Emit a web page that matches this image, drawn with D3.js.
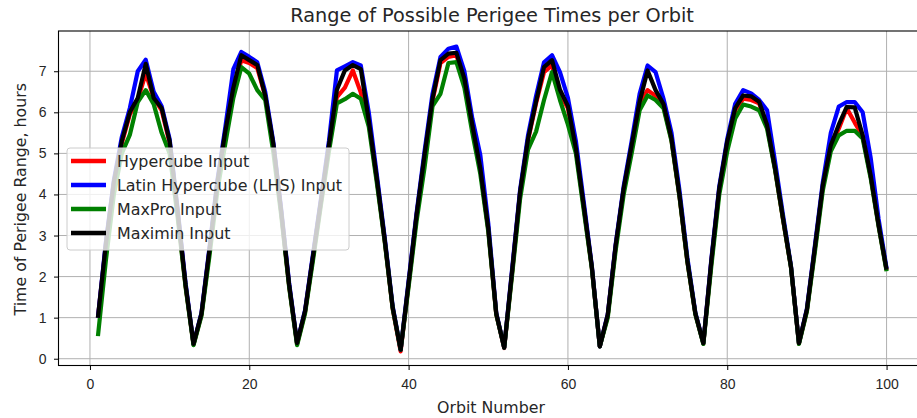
<!DOCTYPE html>
<html>
<head>
<meta charset="utf-8">
<script src="https://cdn.jsdelivr.net/npm/d3@7"></script>
<style>
  body { margin: 0; background: #fff; }
  svg { display: block; font-family: "DejaVu Sans", sans-serif; }
  .grid line { stroke: #b0b0b0; stroke-width: 1; }
  .axis text { font-size: 14px; fill: #262626; }
  .axis line, .axis path { stroke: #000; }
</style>
</head>
<body>
<svg id="chart" width="917" height="418"></svg>
<script>
// orbit numbers 1..100
let orbits = d3.range(1, 101);

let hypercube = [1.00, 2.75, 4.25, 5.25, 5.95, 6.30, 6.95, 6.35, 6.05, 5.25,
    3.55, 1.78, 0.35, 1.08, 2.62, 4.25, 5.50, 6.55, 7.27, 7.20,
    7.08, 6.40, 5.22, 3.58, 1.78, 0.36, 1.14, 2.48, 3.82, 5.15,
    6.37, 6.60, 7.02, 6.48, 5.75, 4.38, 2.88, 1.22, 0.18, 1.82,
    3.48, 4.92, 6.28, 7.20, 7.35, 7.39, 6.78, 5.66, 4.62, 3.16,
    1.09, 0.26, 2.12, 4.05, 5.33, 6.22, 6.98, 7.15, 6.45, 6.10,
    5.10, 3.68, 2.22, 0.30, 1.05, 2.75, 4.12, 5.17, 6.20, 6.54,
    6.40, 6.15, 5.33, 3.97, 2.36, 1.09, 0.37, 2.35, 4.12, 5.25,
    6.05, 6.33, 6.30, 6.22, 5.67, 4.62, 3.40, 2.23, 0.37, 1.18,
    2.68, 4.20, 5.18, 5.60, 6.10, 5.75, 5.42, 4.45, 3.25, 2.16];

let lhs = [1.00, 2.85, 4.35, 5.40, 6.10, 7.00, 7.28, 6.50, 6.15, 5.35,
    3.65, 1.85, 0.36, 1.12, 2.70, 4.35, 5.65, 7.05, 7.47, 7.35,
    7.22, 6.50, 5.30, 3.65, 1.85, 0.38, 1.18, 2.55, 3.90, 5.30,
    7.02, 7.12, 7.22, 7.14, 6.00, 4.50, 2.95, 1.28, 0.22, 1.90,
    3.55, 5.05, 6.45, 7.35, 7.55, 7.60, 7.00, 5.85, 4.96, 3.30,
    1.12, 0.27, 2.20, 4.12, 5.45, 6.40, 7.22, 7.39, 6.98, 6.35,
    5.30, 3.80, 2.26, 0.30, 1.08, 2.80, 4.20, 5.30, 6.45, 7.14,
    6.98, 6.33, 5.50, 4.10, 2.45, 1.12, 0.38, 2.42, 4.20, 5.35,
    6.21, 6.54, 6.46, 6.30, 6.05, 4.80, 3.50, 2.26, 0.38, 1.22,
    2.75, 4.30, 5.50, 6.14, 6.25, 6.25, 6.00, 4.90, 3.40, 2.20];

let maxpro = [0.55, 2.40, 4.00, 5.00, 5.45, 6.25, 6.54, 6.20, 5.50, 5.00,
    3.45, 1.75, 0.33, 1.05, 2.50, 4.10, 5.25, 6.35, 7.10, 6.94,
    6.54, 6.30, 5.05, 3.50, 1.75, 0.33, 1.10, 2.40, 3.75, 5.05,
    6.22, 6.32, 6.45, 6.33, 5.65, 4.30, 2.85, 1.22, 0.22, 1.75,
    3.35, 4.65, 6.15, 6.45, 7.20, 7.22, 6.60, 5.50, 4.50, 3.10,
    1.08, 0.27, 2.05, 3.90, 5.10, 5.53, 6.30, 6.98, 6.30, 5.70,
    5.00, 3.60, 2.20, 0.30, 1.00, 2.65, 4.00, 5.00, 6.05, 6.41,
    6.30, 6.10, 5.30, 3.95, 2.35, 1.08, 0.36, 2.25, 4.00, 5.05,
    5.85, 6.19, 6.14, 6.05, 5.60, 4.60, 3.40, 2.22, 0.36, 1.15,
    2.60, 4.10, 5.05, 5.44, 5.55, 5.55, 5.36, 4.40, 3.22, 2.13];

let maximin = [1.00, 2.80, 4.30, 5.30, 6.00, 6.35, 7.18, 6.35, 6.10, 5.30,
    3.60, 1.80, 0.36, 1.10, 2.65, 4.30, 5.55, 6.60, 7.39, 7.27,
    7.15, 6.41, 5.25, 3.60, 1.80, 0.38, 1.16, 2.50, 3.85, 5.20,
    6.55, 7.02, 7.15, 7.05, 5.80, 4.40, 2.90, 1.25, 0.22, 1.85,
    3.50, 4.96, 6.33, 7.27, 7.43, 7.45, 6.82, 5.69, 4.64, 3.18,
    1.10, 0.27, 2.15, 4.07, 5.36, 6.26, 7.10, 7.27, 6.55, 6.15,
    5.12, 3.70, 2.24, 0.30, 1.07, 2.77, 4.15, 5.20, 6.26, 7.02,
    6.54, 6.20, 5.36, 3.99, 2.38, 1.10, 0.38, 2.38, 4.15, 5.29,
    6.10, 6.41, 6.39, 6.26, 5.69, 4.64, 3.42, 2.24, 0.38, 1.20,
    2.70, 4.23, 5.20, 5.70, 6.13, 6.12, 5.44, 4.47, 3.26, 2.17];

let seriesNames = ["Hypercube Input", "Latin Hypercube (LHS) Input", "MaxPro Input", "Maximin Input"];
let seriesColors = ["#ff0000", "#0000ff", "#008000", "#000000"];
let seriesValues = [hypercube, lhs, maxpro, maximin];

let xTicks = [0, 20, 40, 60, 80, 100];
let yTicks = [0, 1, 2, 3, 4, 5, 6, 7];

let svg = d3.select("#chart");
let plot = {left: 58.5, right: 926, top: 31, bottom: 365.5};

let x = d3.scaleLinear().domain([-3.95, 104.95]).range([plot.left, plot.right]);
let y = d3.scaleLinear().domain([-0.165, 7.98]).range([plot.bottom, plot.top]);

// grid
let grid = svg.append("g").attr("class", "grid");
grid.selectAll(".gx").data(xTicks).enter().append("line")
    .attr("x1", d => x(d)).attr("x2", d => x(d))
    .attr("y1", plot.top).attr("y2", plot.bottom);
grid.selectAll(".gy").data(yTicks).enter().append("line")
    .attr("x1", plot.left).attr("x2", plot.right)
    .attr("y1", d => y(d)).attr("y2", d => y(d));

// lines
let line = d3.line()
    .x((d, i) => x(orbits[i]))
    .y(d => y(d));

svg.append("g").selectAll("path").data(seriesValues).enter().append("path")
    .attr("d", d => line(d))
    .attr("fill", "none")
    .attr("stroke", (d, i) => seriesColors[i])
    .attr("stroke-width", 4.2)
    .attr("stroke-linejoin", "round")
    .attr("stroke-linecap", "butt");

// axes
let xAxis = svg.append("g").attr("class", "axis")
    .attr("transform", "translate(0," + plot.bottom + ")")
    .call(d3.axisBottom(x).tickValues(xTicks).tickSize(4.5).tickPadding(9).tickFormat(d3.format("d")));
let yAxis = svg.append("g").attr("class", "axis")
    .attr("transform", "translate(" + plot.left + ",0)")
    .call(d3.axisLeft(y).tickValues(yTicks).tickSize(4.5).tickPadding(7.5).tickFormat(d3.format("d")));
xAxis.select(".domain").remove();
yAxis.select(".domain").remove();

// frame
svg.append("rect")
    .attr("x", plot.left).attr("y", plot.top)
    .attr("width", plot.right - plot.left).attr("height", plot.bottom - plot.top)
    .attr("fill", "none").attr("stroke", "#000").attr("stroke-width", 1.1);

// labels
svg.append("text")
    .attr("x", 492).attr("y", 22)
    .attr("text-anchor", "middle")
    .style("font-size", "19.3px").style("fill", "#262626")
    .text("Range of Possible Perigee Times per Orbit");

svg.append("text")
    .attr("x", 491).attr("y", 413)
    .attr("text-anchor", "middle")
    .style("font-size", "15.8px").style("fill", "#262626")
    .text("Orbit Number");

svg.append("text")
    .attr("transform", "translate(26," + ((plot.top + plot.bottom) / 2 + 1) + ") rotate(-90)")
    .attr("text-anchor", "middle")
    .style("font-size", "15.8px").style("fill", "#262626")
    .text("Time of Perigee Range, hours");

// legend
let legend = svg.append("g").attr("transform", "translate(67,148)");
legend.append("rect")
    .attr("width", 282).attr("height", 102)
    .attr("rx", 3).attr("ry", 3)
    .attr("fill", "#fff").attr("fill-opacity", 0.8)
    .attr("stroke", "#cccccc").attr("stroke-width", 1);

let entry = legend.selectAll(".entry").data(seriesNames).enter().append("g")
    .attr("transform", (d, i) => "translate(0," + (13 + i * 24) + ")");
entry.append("line")
    .attr("x1", 4).attr("x2", 39)
    .attr("stroke", (d, i) => seriesColors[i])
    .attr("stroke-width", 4.5);
entry.append("text")
    .attr("x", 50).attr("y", 5.8)
    .style("font-size", "15.9px").style("fill", "#262626")
    .text(d => d);
</script>
</body>
</html>
